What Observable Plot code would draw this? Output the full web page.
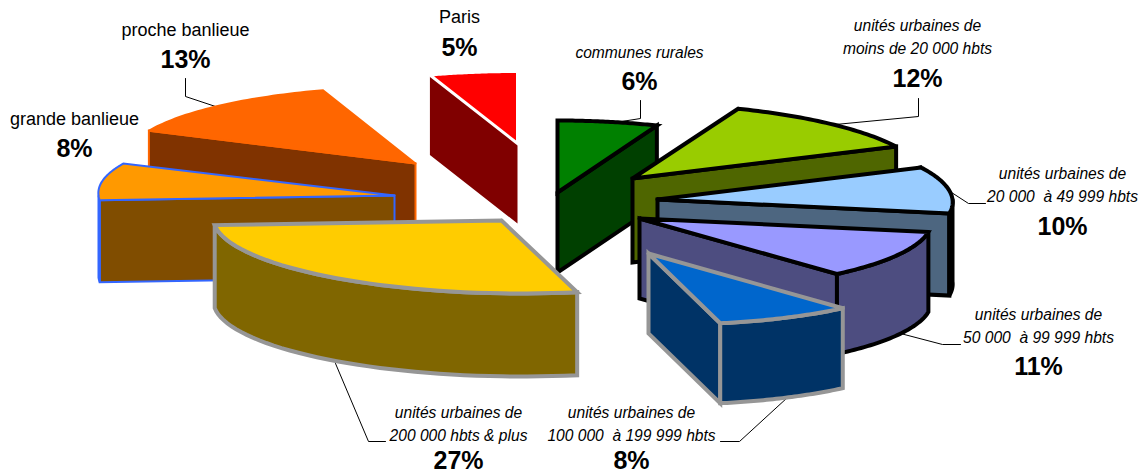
<!DOCTYPE html>
<html><head><meta charset="utf-8">
<script src="https://cdn.jsdelivr.net/npm/d3@7"></script>
<script src="https://cdn.jsdelivr.net/npm/@observablehq/plot@0.6"></script>
<style>html,body{margin:0;background:#fff}svg{display:block}</style>
</head><body><div id="chart"></div>
<script>
// Values, clockwise from 12 o'clock
const categories = ["communes rurales","moins de 20 000 hbts","20 000  à 49 999 hbts","50 000  à 99 999 hbts","100 000  à 199 999 hbts","200 000 hbts & plus","grande banlieue","proche banlieue","Paris"];
const values = [6,12,10,11,8,27,8,13,5];
// Styles
const topFills  = ["#008000","#99cc00","#99ccff","#9999ff","#0066cc","#ffcc00","#ff9900","#ff6600","#ff0000"];
const sideFills = ["#004000","#4f6600","#4d6680","#4d4d80","#003366","#806600","#804d00","#803300","#800000"];
const strokes   = ["#000000","#000000","#000000","#000000","#969696","#969696","#3366ff","#ff6600","#ffffff"];
const strokeWidths = [4,4,4,4,4,4,2,2,3];
// 3D layout of each exploded slice: hub, ellipse radii, thickness
const hubX = [557,632,657,639,648,501,394,415,517];
const hubY = [192,178,199,218,253,220,195,163,143];
const radiusX = [268,285,285,282,277,298,306,301,285];
const radiusY = [72,75,75,72,71,73,75,77,72];
const thickness = [80,84,82,80,80,83,82,84,80];
const shear = 20;
const paintOrder = [8,7,6,0,1,2,3,4,5];

// Labels
const labelLines = [["communes rurales"],["unités urbaines de","moins de 20 000 hbts"],["unités urbaines de","20 000  à 49 999 hbts"],["unités urbaines de","50 000  à 99 999 hbts"],["unités urbaines de","100 000  à 199 999 hbts"],["unités urbaines de","200 000 hbts & plus"],["grande banlieue"],["proche banlieue"],["Paris"]];
const labelItalic = [true,true,true,true,true,true,false,false,false];
const labelX = [639,917,1062,1038,631,458,74,185,459];
const labelY = [52,25,173,314,412,412,119,30,17];
const valueY = [81,78,226,366,460,460,148,59,47];
const leaders = [
  [[640,100],[640,118],[615,122]],
  [[918,98],[918,116],[835,124]],
  [[948,190],[968,203],[985,203]],
  [[900,333],[942,344],[960,344]],
  [[787,397],[739,441],[720,441]],
  [[335,363],[368,441],[385,441]],
  [],
  [[185,78],[185,96],[218,107]],
  []
];

// Slice geometry derived from the shares
const total = d3.sum(values);
const cum = d3.cumsum(values);
const rad = v => v / total * 2 * Math.PI;
function rim(i, a, dz = 0) {
  return {x: hubX[i] + radiusX[i] * Math.sin(a) + shear * (1 - Math.cos(a)) / 2,
          y: hubY[i] - radiusY[i] * Math.cos(a) + dz};
}
const SAMPLES = 40;
function sweep(a0, a1) { return d3.range(SAMPLES + 1).map(k => a0 + (a1 - a0) * k / SAMPLES); }
function sliceShapes(i) {
  const a0 = rad(cum[i] - values[i]), a1 = rad(cum[i]);
  const hub = {x: hubX[i], y: hubY[i]}, d = thickness[i];
  const down = p => ({x: p.x, y: p.y + d});
  const mid = rim(i, (a0 + a1) / 2);
  const shapes = [];
  for (const a of [a0, a1]) {
    const e = rim(i, a);
    const lineY = hub.y + (e.y - hub.y) * (mid.x - hub.x) / ((e.x - hub.x) || 1e-6);
    if (Math.abs(e.x - hub.x) > 1 && mid.y < lineY) {
      shapes.push({pts: [hub, e, down(e), down(hub)], fill: sideFills[i]});
    }
  }
  const w0 = Math.max(a0, Math.PI / 2), w1 = Math.min(a1, 3 * Math.PI / 2);
  if (w1 > w0) {
    const top = sweep(w0, w1).map(a => rim(i, a));
    shapes.push({pts: [...top, ...top.slice().reverse().map(down)], fill: sideFills[i]});
  }
  shapes.push({pts: [hub, ...sweep(a0, a1).map(a => rim(i, a))], fill: topFills[i]});
  return shapes;
}
const sliceMarks = paintOrder.flatMap(i => sliceShapes(i).map(s =>
  Plot.line([...s.pts, s.pts[0], s.pts[1]], {
    x: "x", y: "y", fill: s.fill, stroke: strokes[i] === "#ffffff" && s.fill === sideFills[i] ? s.fill : strokes[i],
    strokeWidth: strokes[i] === "#ffffff" && s.fill === sideFills[i] ? 0 : strokeWidths[i],
    strokeLinejoin: "miter", strokeMiterlimit: 3
  })));

const leaderMarks = leaders.filter(l => l.length).map(l =>
  Plot.line(l, {x: d => d[0], y: d => d[1], stroke: "#000", strokeWidth: 1}));

const font = "Liberation Sans, Arial, sans-serif";
const nameRows = categories.flatMap((c, i) => labelLines[i].map((t, k) => ({t, x: labelX[i], y: labelY[i] + 23 * k, it: labelItalic[i]})));
const valueRows = values.map((v, i) => ({t: v + "%", x: labelX[i], y: valueY[i]}));

document.getElementById("chart").append(Plot.plot({
  width: 1141, height: 472, margin: 0,
  x: {domain: [0, 1141], axis: null},
  y: {domain: [0, 472], reverse: true, axis: null},
  style: {background: "#fff", whiteSpace: "pre", fontFamily: font},
  marks: [
    ...leaderMarks,
    ...sliceMarks,
    Plot.text(nameRows.filter(d => d.it), {x: "x", y: "y", text: "t", fontSize: 15.6, fontStyle: "italic", fill: "#000", fontFamily: font}),
    Plot.text(nameRows.filter(d => !d.it), {x: "x", y: "y", text: "t", fontSize: 18, fill: "#000", fontFamily: font}),
    Plot.text(valueRows, {x: "x", y: "y", text: "t", fontSize: 25, fontWeight: "bold", fill: "#000", fontFamily: font})
  ]
}));
</script></body></html>
